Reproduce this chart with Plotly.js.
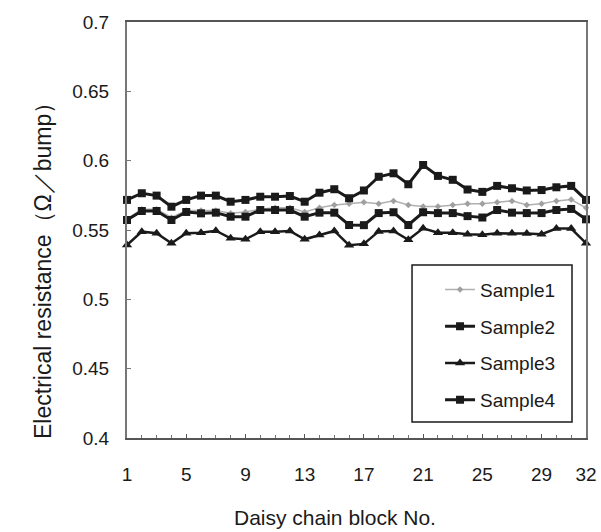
<!DOCTYPE html>
<html>
<head>
<meta charset="utf-8">
<script src="https://cdn.plot.ly/plotly-3.0.1.min.js"></script>
<style>html,body{margin:0;padding:0;background:#fff;}#chart{width:601px;height:532px;}</style>
</head>
<body>
<div id="chart"></div>
<script>
const blocks = Array.from({length: 32}, (_, i) => i + 1);
const xTickVals = [1, 5, 9, 13, 17, 21, 25, 29, 32];
const xTickText = ["1", "5", "9", "13", "17", "21", "25", "29", "32"];
const yTickVals = [0.4, 0.45, 0.5, 0.55, 0.6, 0.65, 0.7];
const yTickText = ["0.4", "0.45", "0.5", "0.55", "0.6", "0.65", "0.7"];

const sample1 = [0.558, 0.565, 0.565, 0.559, 0.564, 0.564, 0.564, 0.562, 0.563, 0.565, 0.566, 0.566,
                 0.563, 0.566, 0.568, 0.569, 0.570, 0.569, 0.571, 0.568, 0.567, 0.567, 0.568, 0.569,
                 0.569, 0.570, 0.571, 0.568, 0.569, 0.571, 0.572, 0.566];
const sample2 = [0.5572, 0.5637, 0.5637, 0.5572, 0.5630, 0.5620, 0.5625, 0.5596, 0.5596, 0.5644, 0.5644, 0.5644,
                 0.5596, 0.5625, 0.5625, 0.5536, 0.5535, 0.5622, 0.5628, 0.5536, 0.5628, 0.5622, 0.5622, 0.5600,
                 0.5590, 0.5644, 0.5625, 0.5622, 0.5622, 0.5644, 0.5652, 0.5577];
const sample3 = [0.5392, 0.5488, 0.5476, 0.5404, 0.5476, 0.5480, 0.5495, 0.5440, 0.5433, 0.5488, 0.5488, 0.5493,
                 0.5433, 0.5464, 0.5493, 0.5390, 0.5400, 0.5490, 0.5493, 0.5430, 0.5512, 0.5480, 0.5480, 0.5470,
                 0.5465, 0.5476, 0.5476, 0.5474, 0.5470, 0.5510, 0.5510, 0.5405];
const sample4 = [0.5717, 0.5765, 0.5748, 0.5668, 0.5717, 0.5748, 0.5748, 0.5704, 0.5717, 0.5740, 0.5740, 0.5745,
                 0.5704, 0.5769, 0.5794, 0.5729, 0.5785, 0.5884, 0.5909, 0.5830, 0.5969, 0.5890, 0.5862, 0.5792,
                 0.5775, 0.5818, 0.5801, 0.5785, 0.5788, 0.5808, 0.5818, 0.5717];
const seriesNames = ["Sample1", "Sample2", "Sample3", "Sample4"];

const FONT = "Liberation Sans, Arial, sans-serif";

const traces = [
  {x: blocks, y: sample1, name: seriesNames[0], legendgroup: "g1", mode: "lines+markers",
   line: {color: "#b0b0b0", width: 1.5}, marker: {symbol: "diamond", size: 5, color: "#a0a0a0"}, cliponaxis: false},
  {x: blocks, y: sample2, name: seriesNames[1], legendgroup: "g2", mode: "lines+markers",
   line: {color: "#1a1a1a", width: 3}, marker: {symbol: "square", size: 8, color: "#1a1a1a"}, cliponaxis: false},
  {x: blocks, y: sample3, name: seriesNames[2], legendgroup: "g3", mode: "lines+markers",
   line: {color: "#1a1a1a", width: 2.5}, marker: {symbol: "triangle-up", size: 9, color: "#1a1a1a"}, cliponaxis: false},
  {x: blocks, y: sample4, name: seriesNames[3], legendgroup: "g4", mode: "lines+markers",
   line: {color: "#1a1a1a", width: 3}, marker: {symbol: "square", size: 8, color: "#1a1a1a"}, cliponaxis: false}
];

const layout = {
  width: 601, height: 532,
  margin: {l: 127, r: 15, t: 22, b: 94},
  paper_bgcolor: "#ffffff", plot_bgcolor: "#ffffff",
  font: {family: FONT, color: "#1a1a1a"},
  showlegend: true,
  legend: {
    x: 0.682, xanchor: "left", y: 0.402, yanchor: "top",
    bgcolor: "rgba(0,0,0,0)", borderwidth: 0,
    traceorder: "grouped", tracegroupgap: 9,
    font: {family: FONT, size: 19, color: "#1a1a1a"}
  },
  xaxis: {
    range: [1, 32], tickmode: "array", tickvals: xTickVals, ticktext: xTickText,
    showgrid: false, zeroline: false,
    showline: true, linecolor: "#555", linewidth: 2, mirror: true,
    ticks: "inside", ticklen: 4, tickcolor: "#555",
    minor: {tickmode: "linear", tick0: 1, dtick: 1, ticks: "inside", ticklen: 3, tickcolor: "#777"},
    ticklabelstandoff: 18,
    tickfont: {family: FONT, size: 19, color: "#1a1a1a"}
  },
  yaxis: {
    range: [0.4, 0.7], tickmode: "array", tickvals: yTickVals, ticktext: yTickText,
    showgrid: false, zeroline: false,
    showline: true, linecolor: "#777", linewidth: 2, mirror: true,
    ticks: "inside", ticklen: 4, tickcolor: "#777",
    ticklabelstandoff: 12,
    tickfont: {family: FONT, size: 19, color: "#1a1a1a"}
  },
  shapes: [
    {type: "rect", xref: "paper", yref: "paper", x0: 0.621, x1: 0.9695, y0: 0.0385, y1: 0.4159,
     line: {color: "#1a1a1a", width: 1.5}, fillcolor: "rgba(0,0,0,0)"}
  ],
  annotations: [
    {text: "Electrical resistance（Ω／bump）", xref: "paper", yref: "paper",
     x: (43 - 127) / 459, y: (438 - 265) / 416, xanchor: "center", yanchor: "middle",
     textangle: -90, showarrow: false, font: {family: FONT, size: 23, color: "#1a1a1a"}},
    {text: "Daisy chain block No.", xref: "paper", yref: "paper",
     x: (335 - 127) / 459, y: (438 - 517) / 416, xanchor: "center", yanchor: "middle",
     showarrow: false, font: {family: FONT, size: 21, color: "#1a1a1a"}}
  ]
};

Plotly.newPlot("chart", traces, layout, {displayModeBar: false, staticPlot: true});
</script>
</body>
</html>
